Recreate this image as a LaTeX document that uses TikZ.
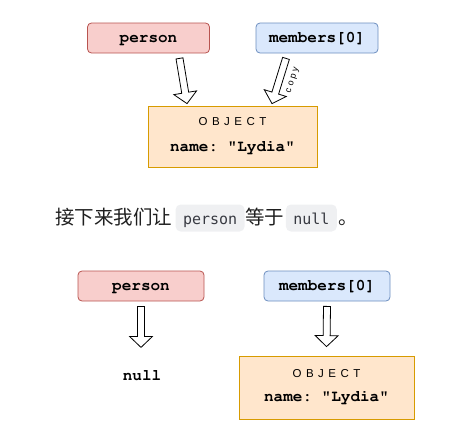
\documentclass[tikz,border=0pt]{standalone}
\usepackage[T1,TU]{fontenc}
\usepackage{fontspec}
\setmonofont{Liberation Mono}
\newfontfamily\cjk{Noto Sans CJK SC}
\newfontfamily\codefont{DejaVu Sans Mono}
\newfontfamily\objfont[LetterSpace=39]{Liberation Sans}
\newfontfamily\copyfont[LetterSpace=30]{Liberation Sans}
\newcommand\courbf{\fontencoding{T1}\fontfamily{pcr}\fontseries{b}\selectfont\frenchspacing}
\usetikzlibrary{calc,positioning}

\definecolor{redfill}{HTML}{F8CECC}
\definecolor{redline}{HTML}{B85450}
\definecolor{bluefill}{HTML}{DAE8FC}
\definecolor{blueline}{HTML}{6C8EBF}
\definecolor{objfill}{HTML}{FFE6CC}
\definecolor{objline}{HTML}{D79B00}
\definecolor{codebg}{HTML}{EFF0F2}
\definecolor{codetext}{HTML}{383A42}
\definecolor{cntext}{HTML}{1F1F1F}

\tikzset{
  var/.style={draw, rounded corners=4pt, line width=0.8pt, minimum width=122pt,
    minimum height=30pt, inner sep=0pt, text height=11pt, text depth=3pt,
    font=\fontsize{16}{18}\courbf},
  redvar/.style={var, fill=redfill, draw=redline},
  bluevar/.style={var, fill=bluefill, draw=blueline},
  obj/.style={draw=objline, fill=objfill, line width=0.8pt, minimum width=169pt,
    minimum height=61pt, inner sep=0pt},
  objtitle/.style={anchor=base, inner sep=0pt, font=\objfont\fontsize{11.5}{13}\selectfont},
  objfield/.style={anchor=base, inner sep=0pt, font=\fontsize{16}{18}\courbf},
  cn/.style={inner sep=0pt, text=cntext, font=\cjk\fontsize{19.5}{22}\selectfont},
  code/.style={fill=codebg, rounded corners=5pt, text=codetext, inner xsep=7.4pt,
    inner ysep=0pt, text height=15pt, text depth=3pt, minimum height=27pt,
    font=\codefont\fontsize{15}{17}\selectfont},
  copylbl/.style={inner sep=0pt, font=\copyfont\fontsize{9}{10}\selectfont},
  % hollow arrow from start to target
  fat/.style={draw=black, fill=white, line width=0.8pt, line join=miter,
    to path={let \p1=($(\tikztotarget)-(\tikztostart)$),
      \n1={atan2(\y1,\x1)}, \n2={veclen(\x1,\y1)} in
      ($(\tikztostart)+({\n1+90}:3.5)$) -- ++(\n1:{\n2-11}) -- ++({\n1+90}:8)
      -- (\tikztotarget)
      -- ($(\tikztotarget)+({\n1+180}:11)+({\n1-90}:11.5)$) -- ++({\n1+90}:8)
      -- ($(\tikztostart)+({\n1-90}:3.5)$) -- cycle}}
}

\begin{document}
\begin{tikzpicture}[x=1pt,y=1pt]
  \useasboundingbox (0,0) rectangle (450,-439);

  %before:
  \node[redvar] (personA) at (148.5,-38) {person};
  \node[bluevar] (membA) at (317,-38) {members[0]};
  \node[obj] (objA) at (232.5,-136.5) {};
  \node[objtitle] (objAt) at ([yshift=-20]objA.north) {OBJECT};
  \node[objfield] (objAf) at ([yshift=-46]objA.north) {name: \textquotedbl Lydia\textquotedbl};

  \draw[fat] ([shift={(31,-5)}]personA.south) to ([shift={(-45.5,2)}]objA.north);
  \draw[fat] ([shift={(-31,-5)}]membA.south) to ([shift={(39.5,2)}]objA.north);
  \node[copylbl, rotate=73] (cpy) at ($(membA.south)+(-24,-27)$) {copy};

  %text line:
  \node[cn, anchor=base west] (t1) at (55,-224) {接下来我们让};
  \node[code, base right=3pt of t1] (c1) {person};
  \node[cn, base right=0.5pt of c1] (t2) {等于};
  \node[code, base right=1pt of t2] (c2) {null};
  \node[cn, base right=1pt of c2] (t3) {。};

  %after:
  \node[redvar, minimum width=126pt] (personB) at (141,-286) {person};
  \node[bluevar, minimum width=126pt] (membB) at (327,-286) {members[0]};
  \node[objfield] (nullB) at (142,-380.5) {null};
  \node[obj, minimum width=175pt, minimum height=63pt] (objB) at (326.5,-387.5) {};
  \node[objtitle] (objBt) at ([yshift=-22.3]objB.north) {OBJECT};
  \node[objfield] (objBf) at ([yshift=-46.3]objB.north) {name: \textquotedbl Lydia\textquotedbl};

  \draw[fat] ([yshift=-5]personB.south) to ([yshift=-46]personB.south);
  \draw[fat] ([yshift=-5]membB.south) to ([yshift=9]objB.north);

\end{tikzpicture}
\end{document}
